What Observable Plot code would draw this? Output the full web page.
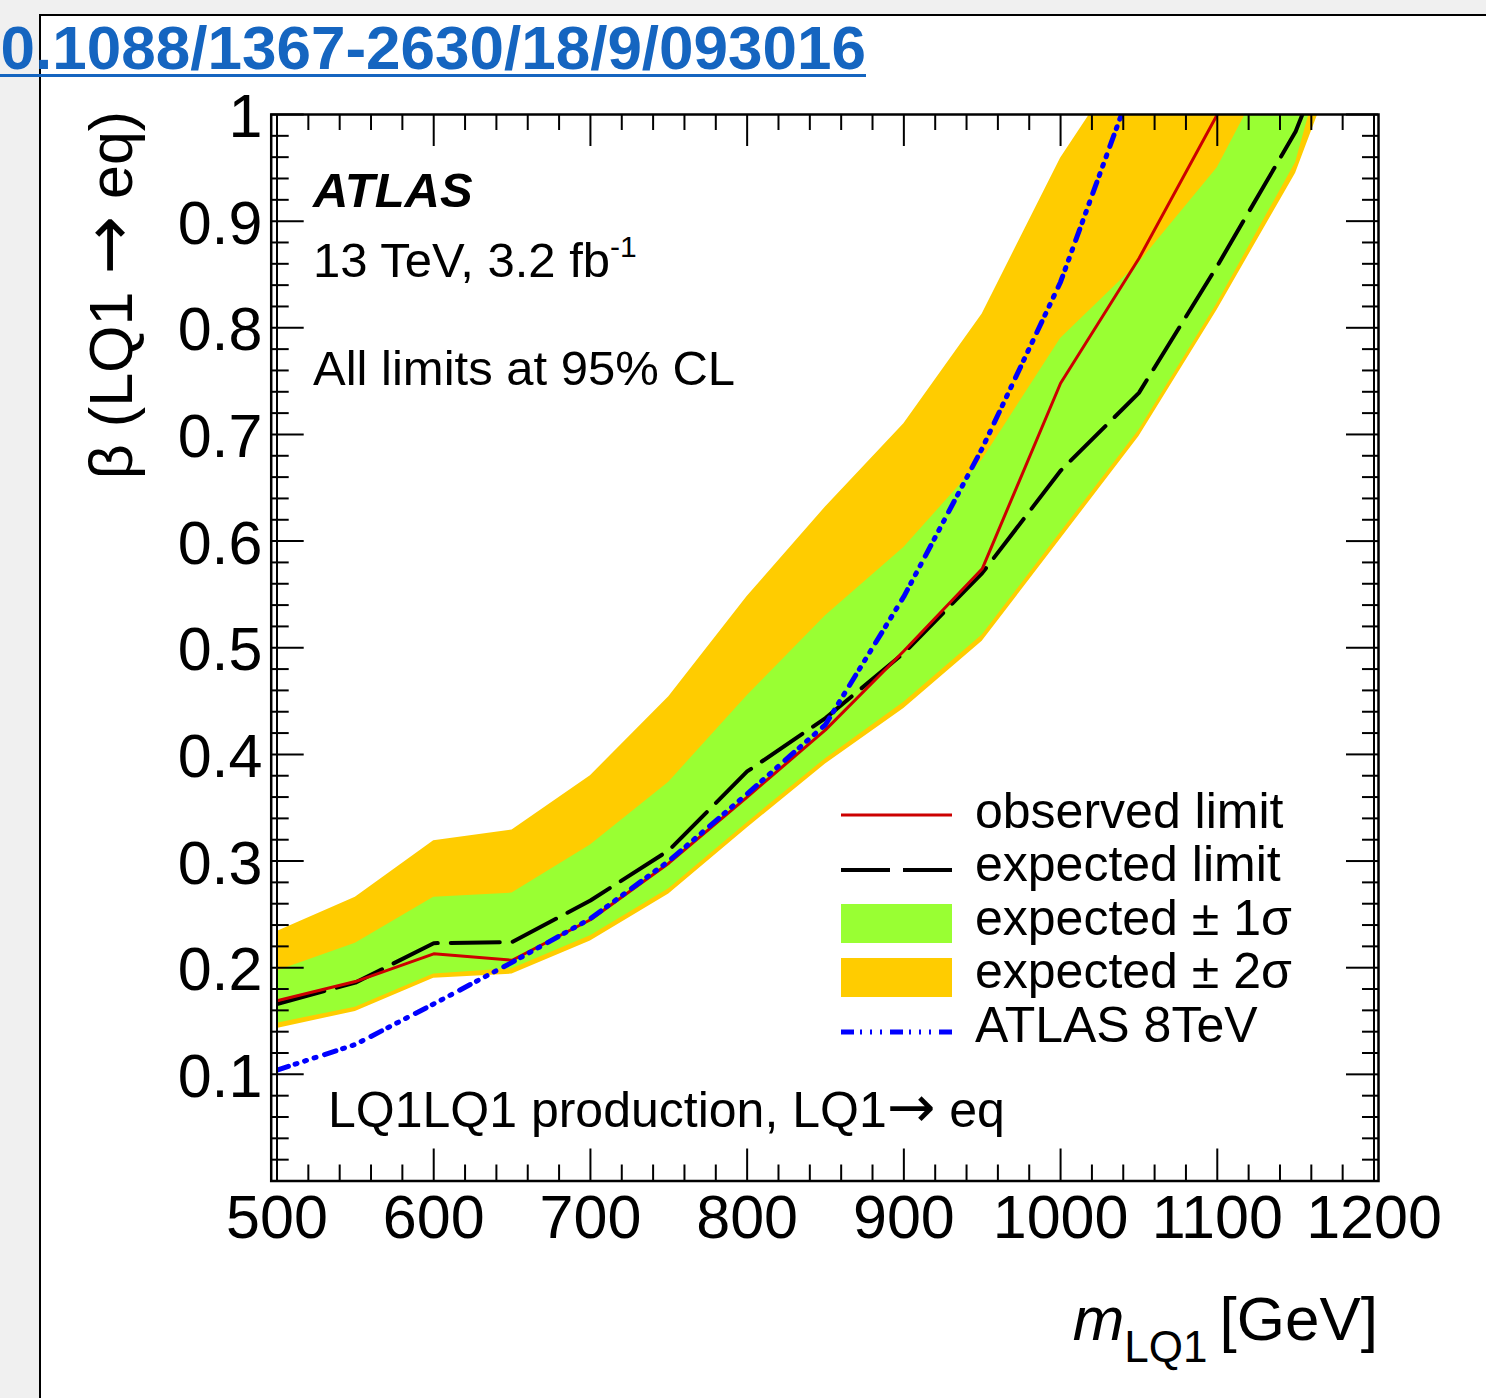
<!DOCTYPE html>
<html>
<head>
<meta charset="utf-8">
<script src="https://cdn.jsdelivr.net/npm/d3@7"></script>
<script src="https://cdn.jsdelivr.net/npm/@observablehq/plot@0.6"></script>
<style>
html, body { margin: 0; padding: 0; background: #fff; }
body { width: 1486px; height: 1398px; position: relative; overflow: hidden; font-family: "Liberation Sans", Arial, Helvetica, sans-serif; }
#grayTop { position: absolute; left: 0; top: 0; width: 1486px; height: 14px; background: #f0f0f0; }
#grayLeft { position: absolute; left: 0; top: 0; width: 39px; height: 1398px; background: #f0f0f0; }
#borderTop { position: absolute; left: 39px; top: 14px; width: 1447px; height: 2px; background: #000; }
#borderLeft { position: absolute; left: 39px; top: 14px; width: 2px; height: 1384px; background: #000; }
#chart { position: absolute; left: 0; top: 0; }
#doi { position: absolute; right: 620px; top: 17px; font-size: 62px; line-height: 62px; font-weight: bold; color: #1565c0; white-space: nowrap; text-decoration: underline; text-decoration-thickness: 3px; text-underline-offset: 5px; z-index: 5; }
</style>
</head>
<body>
<div id="grayTop"></div>
<div id="grayLeft"></div>
<div id="borderTop"></div>
<div id="borderLeft"></div>
<div id="chart"></div>
<div id="doi">10.1088/1367-2630/18/9/093016</div>
<script>
// ---- data ----
const mass      = [500, 550, 600, 650, 700, 750, 800, 850, 900, 950, 1000, 1050, 1100, 1150, 1200];
const observed  = [0.169, 0.187, 0.213, 0.207, 0.245, 0.298, 0.360, 0.423, 0.497, 0.574, 0.748, 0.865, 1.000, null, null];
const expected  = [0.166, 0.186, 0.223, 0.224, 0.263, 0.310, 0.384, 0.434, 0.495, 0.570, 0.666, 0.739, 0.858, 0.984, 1.17];
const sigma1Up  = [0.197, 0.223, 0.266, 0.270, 0.315, 0.374, 0.455, 0.530, 0.594, 0.676, 0.790, 0.861, 0.950, 1.09, 1.23];
const sigma1Dn  = [0.148, 0.163, 0.194, 0.199, 0.230, 0.274, 0.336, 0.396, 0.449, 0.512, 0.608, 0.704, 0.823, 0.955, 1.22];
const sigma2Up  = [0.234, 0.266, 0.319, 0.329, 0.380, 0.454, 0.548, 0.632, 0.710, 0.813, 0.959, 1.07, 1.18, 1.29, 1.40];
const sigma2Dn  = [0.143, 0.159, 0.190, 0.194, 0.225, 0.269, 0.331, 0.391, 0.443, 0.506, 0.602, 0.698, 0.817, 0.945, 1.14];
const atlas8TeV = [0.104, 0.128, 0.166, 0.205, 0.246, 0.300, 0.363, 0.428, 0.548, 0.687, 0.843, 1.045, null, null, null];

const xTickValues = [500, 600, 700, 800, 900, 1000, 1100, 1200];
const xTickLabels = ["500", "600", "700", "800", "900", "1000", "1100", "1200"];
const yTickValues = [0.1, 0.2, 0.3, 0.4, 0.5, 0.6, 0.7, 0.8, 0.9, 1.0];
const yTickLabels = ["0.1", "0.2", "0.3", "0.4", "0.5", "0.6", "0.7", "0.8", "0.9", "1"];
const yMajorTicks = [0, 0.1, 0.2, 0.3, 0.4, 0.5, 0.6, 0.7, 0.8, 0.9, 1.0];
const xMinorTicks = d3.range(500, 1201, 20).filter(v => v % 100 !== 0);
const yMinorTicks = d3.range(1, 50).map(i => +(i * 0.02).toFixed(2)).filter(v => Math.round(v * 100) % 10 !== 0);

const legendLabels = ["observed limit", "expected limit", "expected \u00b1 1\u03c3", "expected \u00b1 2\u03c3", "ATLAS 8TeV"];

const rows = mass.map((m, i) => ({
  m, obs: observed[i], exp: expected[i],
  s1u: sigma1Up[i], s1d: sigma1Dn[i], s2u: sigma2Up[i], s2d: sigma2Dn[i], a8: atlas8TeV[i]
}));

// ---- layout ----
const W = 1486, H = 1398;
const mL = 276.5, mR = 112.5, mT = 114, mB = 217.5;
const frameH = H - mT - mB;      // 1066.5
const frameW = W - mL - mR;      // 1097
const FONT = "Liberation Sans, Arial, Helvetica, sans-serif";
const ARROW_FONT = "DejaVu Sans, sans-serif";
const GREEN = "#99ff33", YELLOW = "#ffcc00", RED = "#cc0000", BLUE = "#0000ff";
const BLUE_DASH = "12,7,2,8,2,8,2,9";
const BLACK_DASH = "49,13";

const plot = Plot.plot({
  width: W, height: H,
  marginLeft: mL, marginRight: mR, marginTop: mT, marginBottom: mB,
  style: { background: "transparent", overflow: "visible", fontFamily: FONT },
  x: { domain: [500, 1200], axis: null },
  y: { domain: [0, 1], axis: null },
  marks: [
    Plot.areaY(rows, { x: "m", y1: "s2d", y2: "s2u", fill: YELLOW, clip: true, curve: "linear" }),
    Plot.areaY(rows, { x: "m", y1: "s1d", y2: "s1u", fill: GREEN, clip: true, curve: "linear" }),
    Plot.line(rows, { x: "m", y: "exp", stroke: "black", strokeWidth: 4, strokeDasharray: BLACK_DASH, clip: true }),
    Plot.line(rows, { x: "m", y: "obs", stroke: RED, strokeWidth: 3, clip: true }),
    Plot.line(rows, { x: "m", y: "a8", stroke: BLUE, strokeWidth: 5, strokeDasharray: BLUE_DASH, clip: true }),
    // frame and inner axis lines
    Plot.frame({ stroke: "black", strokeWidth: 2.5, insetLeft: -5.8, insetRight: -4.5 }),
    Plot.ruleX([500, 1200], { stroke: "black", strokeWidth: 2 }),
    // x ticks bottom / top
    Plot.tickX(xTickValues, { x: d => d, stroke: "black", strokeWidth: 2, insetTop: frameH - 32 }),
    Plot.tickX(xMinorTicks, { x: d => d, stroke: "black", strokeWidth: 2, insetTop: frameH - 16 }),
    Plot.tickX(xTickValues, { x: d => d, stroke: "black", strokeWidth: 2, insetBottom: frameH - 32 }),
    Plot.tickX(xMinorTicks, { x: d => d, stroke: "black", strokeWidth: 2, insetBottom: frameH - 16 }),
    // y ticks left / right
    Plot.tickY(yMajorTicks, { y: d => d, stroke: "black", strokeWidth: 2, insetLeft: -5.8, insetRight: frameW - 27.2 }),
    Plot.tickY(yMinorTicks, { y: d => d, stroke: "black", strokeWidth: 2, insetLeft: -5.8, insetRight: frameW - 12.2 }),
    Plot.tickY(yMajorTicks, { y: d => d, stroke: "black", strokeWidth: 2, insetRight: -4.5, insetLeft: frameW - 27.5 }),
    Plot.tickY(yMinorTicks, { y: d => d, stroke: "black", strokeWidth: 2, insetRight: -4.5, insetLeft: frameW - 11.5 }),
    // tick labels
    Plot.text(xTickValues, { x: d => d, text: (d, i) => xTickLabels[i], frameAnchor: "bottom", lineAnchor: "top", dy: 14, fontSize: 61, fill: "black", fontFamily: FONT }),
    Plot.text(yTickValues, { y: d => d, text: (d, i) => yTickLabels[i], frameAnchor: "left", textAnchor: "end", lineAnchor: "middle", dx: -14.5, dy: 3, fontSize: 61, fill: "black", fontFamily: FONT })
  ]
});
document.getElementById("chart").appendChild(plot);

// ---- annotations ----
const svg = d3.select(plot);
const g = svg.append("g").attr("font-family", FONT).attr("fill", "black").attr("text-anchor", "start");

// axis titles
const yt = g.append("text")
  .attr("transform", "translate(132,295) rotate(-90)")
  .attr("text-anchor", "middle")
  .attr("font-size", 61);
yt.append("tspan").text("\u03b2 (LQ1 ");
yt.append("tspan").attr("font-family", ARROW_FONT).attr("font-size", 70).text("\u2192");
yt.append("tspan").text(" eq)");

const xt = g.append("text").attr("x", 1378).attr("y", 1340).attr("text-anchor", "end").attr("font-size", 62);
xt.append("tspan").attr("font-style", "italic").text("m");
xt.append("tspan").attr("font-size", 44).attr("dy", 22).text("LQ1");
xt.append("tspan").attr("dy", -22).attr("dx", 12).text("[GeV]");

// ATLAS labels
g.append("text").attr("x", 313).attr("y", 207).attr("font-size", 49).attr("font-weight", "bold").attr("font-style", "italic").text("ATLAS");
const lumi = g.append("text").attr("x", 313).attr("y", 277).attr("font-size", 49);
lumi.append("tspan").text("13 TeV, 3.2 fb");
lumi.append("tspan").attr("font-size", 30).attr("dy", -20).text("-1");
g.append("text").attr("x", 313).attr("y", 385).attr("font-size", 49).text("All limits at 95% CL");
const proc = g.append("text").attr("x", 328).attr("y", 1127).attr("font-size", 50);
proc.append("tspan").text("LQ1LQ1 production, LQ1");
proc.append("tspan").attr("font-family", ARROW_FONT).attr("font-size", 58).text("\u2192");
proc.append("tspan").text(" eq");

// legend
const lx0 = 841, lx1 = 952, tx = 975;
const baselines = [828, 881, 935, 988, 1042];
g.append("line").attr("x1", lx0).attr("x2", lx1).attr("y1", 815).attr("y2", 815).attr("stroke", RED).attr("stroke-width", 3);
g.append("line").attr("x1", lx0).attr("x2", lx1).attr("y1", 870).attr("y2", 870).attr("stroke", "black").attr("stroke-width", 4).attr("stroke-dasharray", BLACK_DASH);
g.append("rect").attr("x", lx0).attr("y", 904).attr("width", lx1 - lx0).attr("height", 39).attr("fill", GREEN);
g.append("rect").attr("x", lx0).attr("y", 958).attr("width", lx1 - lx0).attr("height", 39).attr("fill", YELLOW);
g.append("line").attr("x1", lx0).attr("x2", lx1).attr("y1", 1032).attr("y2", 1032).attr("stroke", BLUE).attr("stroke-width", 5).attr("stroke-dasharray", "13,6,2,8,2,8,2,8");
legendLabels.forEach((t, i) => {
  g.append("text").attr("x", tx).attr("y", baselines[i]).attr("font-size", 50).text(t);
});
</script>
</body>
</html>
